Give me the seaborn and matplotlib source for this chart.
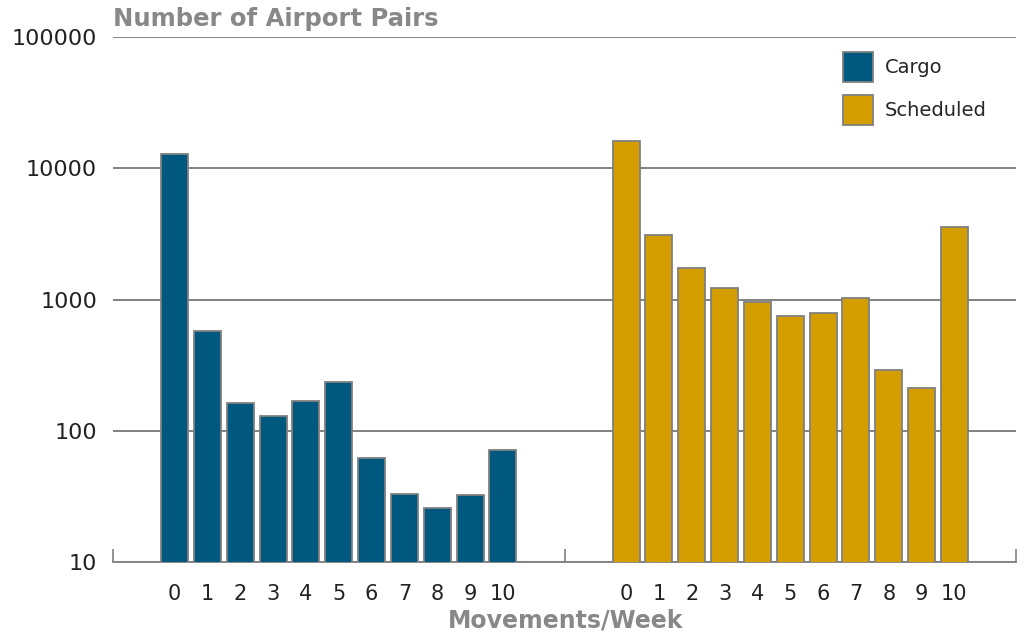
import matplotlib
matplotlib.use("Agg")
import matplotlib.pyplot as plt
import seaborn as sns
import pandas as pd

# Airport pairs by weekly movements, cargo vs scheduled services
movements = list(range(11))
tick_labels = [str(m) for m in movements]
cargo_pairs = [12850, 575, 164, 130, 169, 235, 62, 33, 25.8, 32.2, 71]
scheduled_pairs = [16150, 3080, 1745, 1213, 949, 746, 796, 1023, 292, 210, 3565]
series_names = ["Cargo", "Scheduled"]
y_ticks = [10, 100, 1000, 10000, 100000]

# the two groups share one axis; the second group sits after a gap
group_offset = 13.75
pad = 1.875

df = pd.DataFrame({
    "Movements": movements + movements,
    "Type": [series_names[0]] * 11 + [series_names[1]] * 11,
    "Pairs": cargo_pairs + scheduled_pairs,
})
df["Position"] = df["Movements"] + (df["Type"] == series_names[1]) * group_offset

sns.set_style("white")
plt.rcParams["font.family"] = ["DejaVu Sans"]

fig = plt.figure(figsize=(10.26, 6.34), dpi=100)
ax = fig.add_axes([113 / 1026, 1 - 562 / 634, (1016 - 113) / 1026, (562 - 37) / 634])

palette = {"Cargo": "#00587f", "Scheduled": "#d49e00"}
sns.barplot(
    data=df, x="Position", y="Pairs", hue="Type", palette=palette,
    native_scale=True, dodge=False, width=0.82,
    edgecolor="#808080", linewidth=1.3, saturation=1, ax=ax, zorder=3,
)
ax.set_yscale("log")
ax.set_ylim(10, 100000)
ax.set_xlim(-pad, 10 + pad + group_offset)

ax.set_yticks(y_ticks)
ax.set_yticklabels([str(v) for v in y_ticks])
ax.yaxis.set_minor_locator(matplotlib.ticker.NullLocator())
ax.tick_params(axis="y", length=0, pad=11.5, labelsize=16, labelcolor="#222222")

positions = movements + [m + group_offset for m in movements]
ax.set_xticks(positions)
ax.set_xticklabels(tick_labels + tick_labels)
ax.set_xticks([-pad, 10 + pad, 10 + pad + group_offset], minor=True)
ax.tick_params(axis="x", which="major", length=0, pad=16, labelsize=15, labelcolor="#222222")
ax.tick_params(axis="x", which="minor", bottom=True, direction="in", length=9.5,
               width=1.2, color="#808080")

ax.grid(axis="y", which="major", color="#777777", linewidth=1.3, zorder=0)
ax.set_axisbelow(True)
for side in ["left", "top", "right"]:
    ax.spines[side].set_visible(False)
ax.spines["bottom"].set_color("#808080")
ax.spines["bottom"].set_linewidth(1.3)

ax.set_xlabel("")
ax.set_ylabel("")

handles, labels = ax.get_legend_handles_labels()
ax.get_legend().remove()
fig.legend(
    handles, labels, loc="upper left", bbox_to_anchor=(843 / 1026, 1 - 52 / 634),
    frameon=False, fontsize=14, handlelength=1.53, handleheight=2.0,
    handletextpad=0.6, labelspacing=0.68, borderpad=0, borderaxespad=0,
)

fig.text(113 / 1026, 1 - 19 / 634, "Number of Airport Pairs", fontsize=17.5,
         fontweight="bold", color="#888888", ha="left", va="center")
fig.text(566 / 1026, 1 - 620 / 634, "Movements/Week", fontsize=17,
         fontweight="bold", color="#888888", ha="center", va="center")

fig.savefig("out.png", dpi=100)
